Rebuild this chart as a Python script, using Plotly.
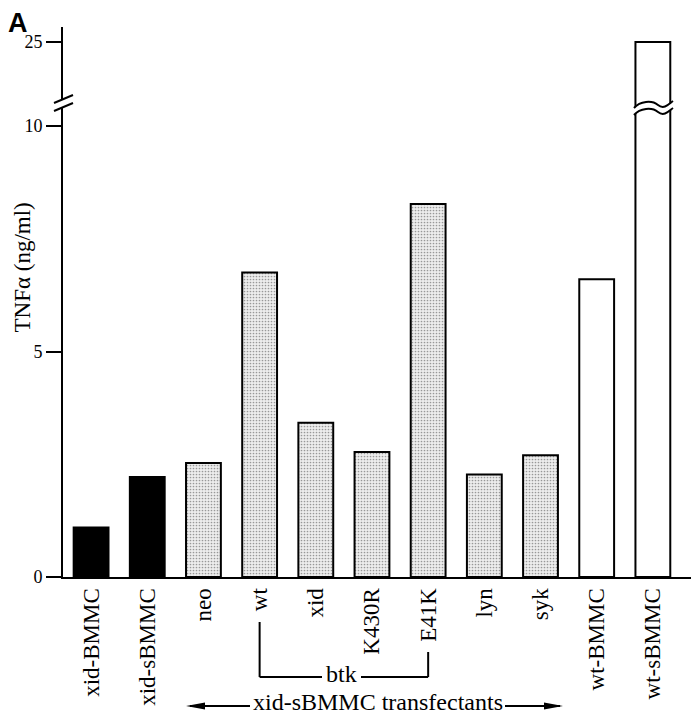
import plotly.graph_objects as go

# ---------------- data ----------------
categories = ["xid-BMMC", "xid-sBMMC", "neo", "wt", "xid", "K430R", "E41K",
              "lyn", "syk", "wt-BMMC", "wt-sBMMC"]
tnf_values = [1.10, 2.22, 2.53, 6.75, 3.42, 2.77, 8.27, 2.27, 2.70, 6.60, 25.0]
cell_group = ["xid", "xid", "transfectant", "transfectant", "transfectant",
              "transfectant", "transfectant", "transfectant", "transfectant",
              "wt", "wt"]
lower_ticks = [0, 5, 10]
upper_ticks = [25]
y_title = "TNFα (ng/ml)"
bracket_label = "btk"
bracket_from, bracket_to = "wt", "E41K"
span_label = "xid-sBMMC transfectants"

# ---------------- styles ----------------
fill_of = {"xid": "black", "transfectant": "#ededed", "wt": "white"}
pattern_of = {"xid": "", "transfectant": ".", "wt": ""}
SERIF = "Liberation Serif, Times New Roman, serif"

# the page body adds an 8px margin, so the figure is drawn 8px smaller
PAGE_OFF = 8
W, H = 699 - PAGE_OFF, 720 - PAGE_OFF
# plot area in screen (reference) pixels
PL, PR, PT, PB = 63, 695, 27, 577
PW, PH = PR - PL, PB - PT
L, R, T, B = PL - PAGE_OFF, W - (PR - PAGE_OFF), PT - PAGE_OFF, H - (PB - PAGE_OFF)
XMIN, XMAX = -0.5, 10.75


def px(x):
    return (x - PL) / PW


def py(y):
    return (PB - y) / PH


def xdata(pix):
    return XMIN + (pix - PL) / PW * (XMAX - XMIN)


def path(cmds):
    out = []
    for c in cmds:
        if isinstance(c, str):
            out.append(c)
        else:
            out.append(f"{px(c[0]):.5f},{py(c[1]):.5f}")
    return " ".join(out)


split = py(104)
lower_top = 10 * (PB - 104) / (PB - 126)
upper_lo = 25 - (104 - 42) / 30.0
upper_hi = 25 + (42 - PT) / 30.0

colors = [fill_of[g] for g in cell_group]
shapes_p = [pattern_of[g] for g in cell_group]

fig = go.Figure()
for xa, ya in (("x", "y"), ("x2", "y2")):
    fig.add_trace(go.Bar(
        x=categories, y=tnf_values, xaxis=xa, yaxis=ya, width=0.62,
        marker=dict(color=colors, line=dict(color="black", width=2),
                    pattern=dict(shape=shapes_p, fgcolor="#c6c6c6",
                                 bgcolor=colors, size=3, solidity=0.25)),
        showlegend=False, hoverinfo="x+y"))

axis_common = dict(showline=True, linecolor="black", linewidth=2,
                   showgrid=False, zeroline=False)

fig.update_layout(
    width=W, height=H, margin=dict(l=L, r=R, t=T, b=B),
    paper_bgcolor="white", plot_bgcolor="white", barmode="overlay",
    xaxis=dict(domain=[0, 1], anchor="y", range=[XMIN, XMAX],
               tickangle=-90, ticks="", ticklen=0,
               tickfont=dict(family=SERIF, size=23, color="black"),
               **axis_common),
    yaxis=dict(domain=[0, split], anchor="x", range=[0, lower_top],
               tickvals=lower_ticks, ticks="outside", ticklen=15, tickwidth=2,
               tickcolor="black", tickfont=dict(family=SERIF, size=18, color="black"),
               **axis_common),
    xaxis2=dict(domain=[0, 1], anchor="y2", matches="x", visible=False),
    yaxis2=dict(domain=[split, 1], anchor="x2", range=[upper_lo, upper_hi],
                tickvals=upper_ticks, ticks="outside", ticklen=15, tickwidth=2,
                tickcolor="black", tickfont=dict(family=SERIF, size=18, color="black"),
                **axis_common),
)

ln = dict(color="black", width=2)
shapes = []
# axis break marks
shapes.append(dict(type="path", xref="paper", yref="paper",
                   path=path(["M", (53, 103.5), "L", (74, 95.5), "L", (74, 103.5),
                              "L", (53, 111.5), "Z"]),
                   fillcolor="white", line=dict(width=0)))
for dy in (0, 8):
    shapes.append(dict(type="line", xref="paper", yref="paper",
                       x0=px(54), y0=py(103 + dy), x1=px(73), y1=py(95 + dy), line=ln))
# bar break (wavy) on tallest bar
up = [(634, 108), (640, 101), (652, 100), (658, 105), (664, 110), (669, 104), (673, 101)]
lo = [(x, y + 7) for x, y in up]
mask = ["M", up[0], "C", up[1], up[2], up[3], "C", up[4], up[5], up[6],
        "L", lo[6], "C", lo[5], lo[4], lo[3], "C", lo[2], lo[1], lo[0], "Z"]
shapes.append(dict(type="path", xref="paper", yref="paper", path=path(mask),
                   fillcolor="white", line=dict(width=0)))
for wv in (up, lo):
    shapes.append(dict(type="path", xref="paper", yref="paper",
                       path=path(["M", wv[0], "C", wv[1], wv[2], wv[3], "C", wv[4], wv[5], wv[6]]),
                       line=ln))
# btk bracket
i0, i1 = categories.index(bracket_from), categories.index(bracket_to)
btk_center = xdata(341)
shapes.append(dict(type="line", xref="x", yref="paper", x0=i0, x1=i0, y0=py(622), y1=py(677), line=ln))
shapes.append(dict(type="line", xref="x", yref="paper", x0=i0, x1=xdata(322), y0=py(677), y1=py(677), line=ln))
shapes.append(dict(type="line", xref="x", yref="paper", x0=xdata(361), x1=i1, y0=py(677), y1=py(677), line=ln))
shapes.append(dict(type="line", xref="x", yref="paper", x0=i1, x1=i1, y0=py(652), y1=py(677), line=ln))
# transfectant span arrow
for a, b in ((190, 250), (505, 560)):
    shapes.append(dict(type="line", xref="paper", yref="paper", x0=px(a), x1=px(b),
                       y0=py(706), y1=py(706), line=ln))
for tip, base in ((186, 205), (563, 544)):
    shapes.append(dict(type="path", xref="paper", yref="paper",
                       path=path(["M", (tip, 706), "L", (base, 702.5), "L", (base, 709.5), "Z"]),
                       fillcolor="black", line=dict(width=0)))
fig.update_layout(shapes=shapes)

ann = [
    dict(text=bracket_label, xref="x", yref="paper", x=btk_center, y=py(674),
         showarrow=False, xanchor="center", yanchor="middle", borderpad=0, borderwidth=0,
         font=dict(family=SERIF, size=24, color="black")),
    dict(text=span_label, xref="paper", yref="paper", x=px(377.5), y=py(702),
         showarrow=False, xanchor="center", yanchor="middle", borderpad=0, borderwidth=0,
         font=dict(family=SERIF, size=24, color="black")),
    dict(text=y_title, xref="paper", yref="paper", x=px(PAGE_OFF + 1), y=py(268), textangle=-90,
         showarrow=False, xanchor="left", yanchor="middle", borderpad=0, borderwidth=0,
         font=dict(family=SERIF, size=23, color="black")),
    dict(text="<b>A</b>", xref="paper", yref="paper", x=px(PAGE_OFF), y=py(PAGE_OFF),
         showarrow=False, xanchor="left", yanchor="top", borderpad=0, borderwidth=0,
         font=dict(family="Liberation Sans, Arial, sans-serif", size=27, color="black")),
]
fig.update_layout(annotations=ann)

fig.write_html("out.html")
